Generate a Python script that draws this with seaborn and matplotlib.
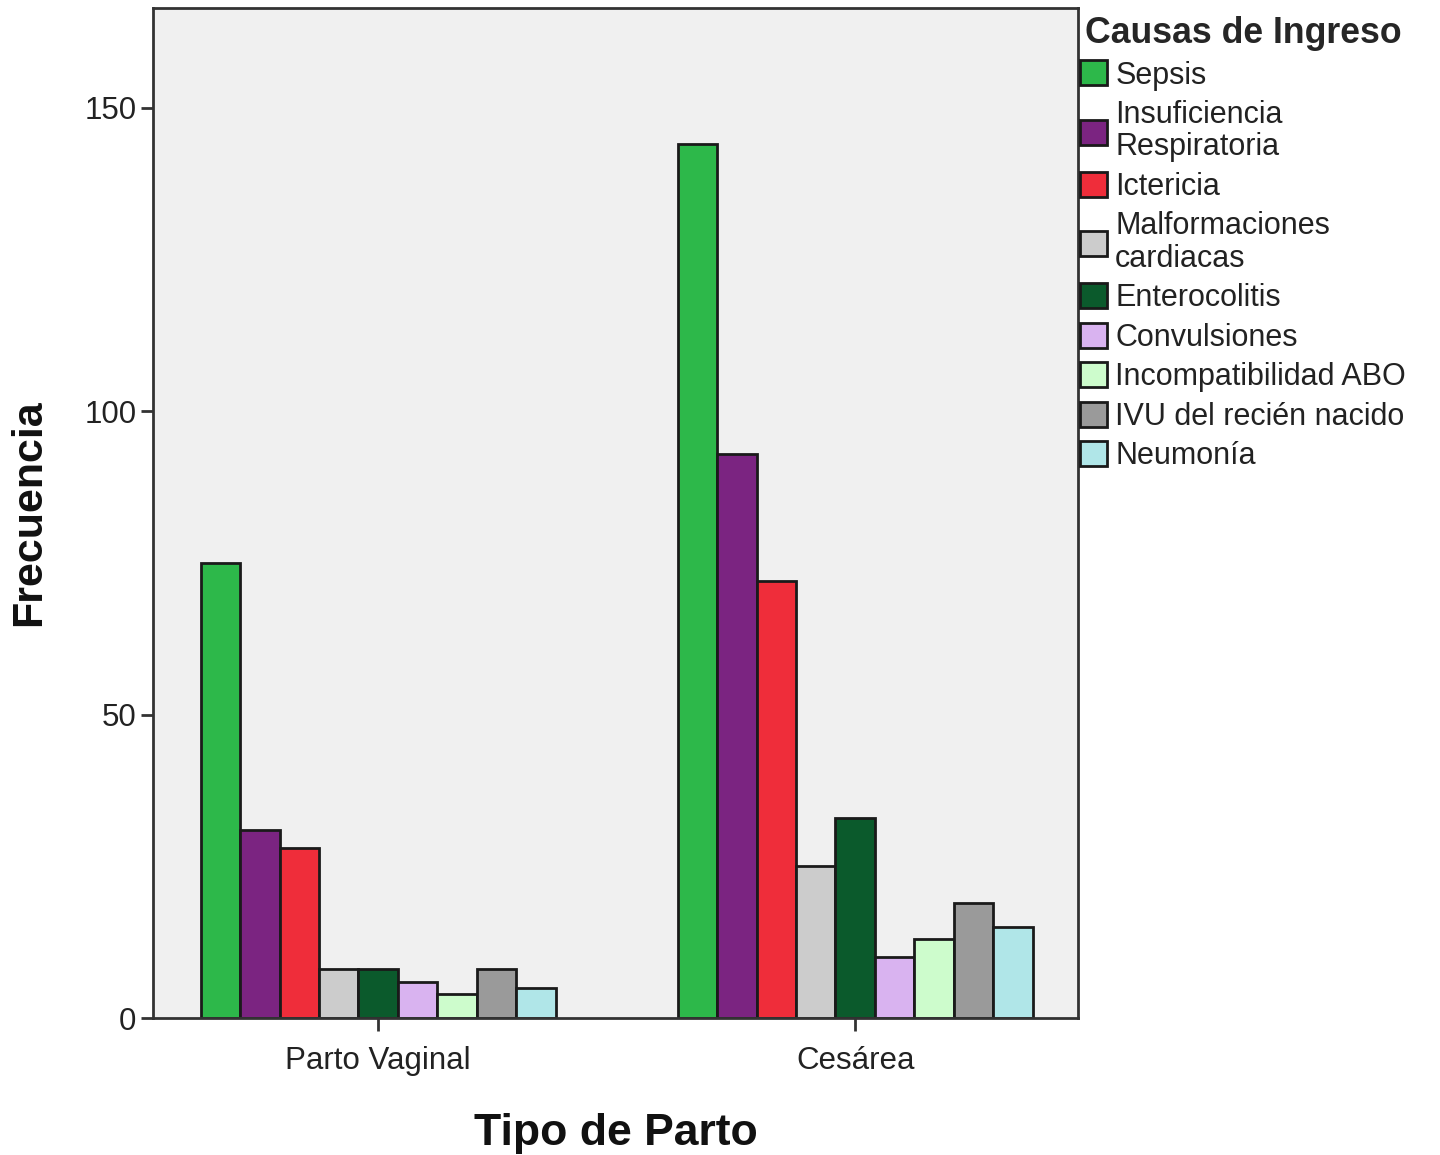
import matplotlib
matplotlib.use("Agg")
import matplotlib.pyplot as plt
import seaborn as sns
import pandas as pd

# Admission causes by delivery type
tipos = ["Parto Vaginal", "Cesárea"]
causas = [
    "Sepsis",
    "Insuficiencia\nRespiratoria",
    "Ictericia",
    "Malformaciones\ncardiacas",
    "Enterocolitis",
    "Convulsiones",
    "Incompatibilidad ABO",
    "IVU del recién nacido",
    "Neumonía",
]
frec_vaginal = [75, 31, 28, 8, 8, 6, 4, 8, 5]
frec_cesarea = [144, 93, 72, 25, 33, 10, 13, 19, 15]
colores = ["#2db84a", "#7b2481", "#ef2d3a", "#cccccc", "#0b5a2c",
           "#d9b3f0", "#cdfccc", "#9a9a9a", "#b0e6e8"]
yticks = [0, 50, 100, 150]

df = pd.DataFrame({
    "Tipo de Parto": [tipos[0]] * len(causas) + [tipos[1]] * len(causas),
    "Causas de Ingreso": causas * 2,
    "Frecuencia": frec_vaginal + frec_cesarea,
})

sns.set_theme(style="white")
plt.rcParams["font.family"] = ["Liberation Sans", "DejaVu Sans"]

fig = plt.figure(figsize=(14.4, 11.55), dpi=100)
ax = fig.add_axes([153 / 1440, 1 - 1018 / 1155, (1078 - 153) / 1440, (1018 - 8) / 1155])
ax.set_facecolor("#f0f0f0")

sns.barplot(data=df, x="Tipo de Parto", y="Frecuencia", hue="Causas de Ingreso",
            order=tipos, hue_order=causas, palette=colores, width=0.744, gap=0,
            edgecolor="#1a1a1a", linewidth=2, saturation=1, ax=ax)

ax.set_xlim(-0.472, 1.467)
ax.set_ylim(0, 166.4)
ax.set_yticks(yticks)
ax.set_yticklabels([str(v) for v in yticks])

for s in ax.spines.values():
    s.set_visible(True)
    s.set_color("#333333")
    s.set_linewidth(2)

ax.tick_params(axis="both", which="major", direction="out", length=9, width=2,
               color="#333333", labelsize=22.5, labelcolor="#222222")
ax.tick_params(axis="x", pad=11)
ax.tick_params(axis="y", pad=3)
ax.tick_params(left=True, bottom=True, top=False, right=False)

ax.set_xlabel("Tipo de Parto", fontsize=32, fontweight="bold", labelpad=27, color="#111111")
ax.set_ylabel("Frecuencia", fontsize=31, fontweight="bold", labelpad=25, color="#111111")

handles, labels = ax.get_legend_handles_labels()
ax.get_legend().remove()
leg = fig.legend(handles, labels, loc="upper left",
                 bbox_to_anchor=(1080 / 1440, 1 - 16 / 1155),
                 bbox_transform=fig.transFigure, frameon=False,
                 title="Causas de Ingreso", fontsize=22,
                 title_fontproperties={"weight": "bold", "size": 25.7},
                 handlelength=0.88, handleheight=0.88, handletextpad=0.27,
                 labelspacing=0.31, borderpad=0, borderaxespad=0)
for t in leg.get_texts():
    t.set_linespacing(1.1)
    t.set_color("#222222")

fig.savefig("out.png", dpi=100, facecolor="white")
